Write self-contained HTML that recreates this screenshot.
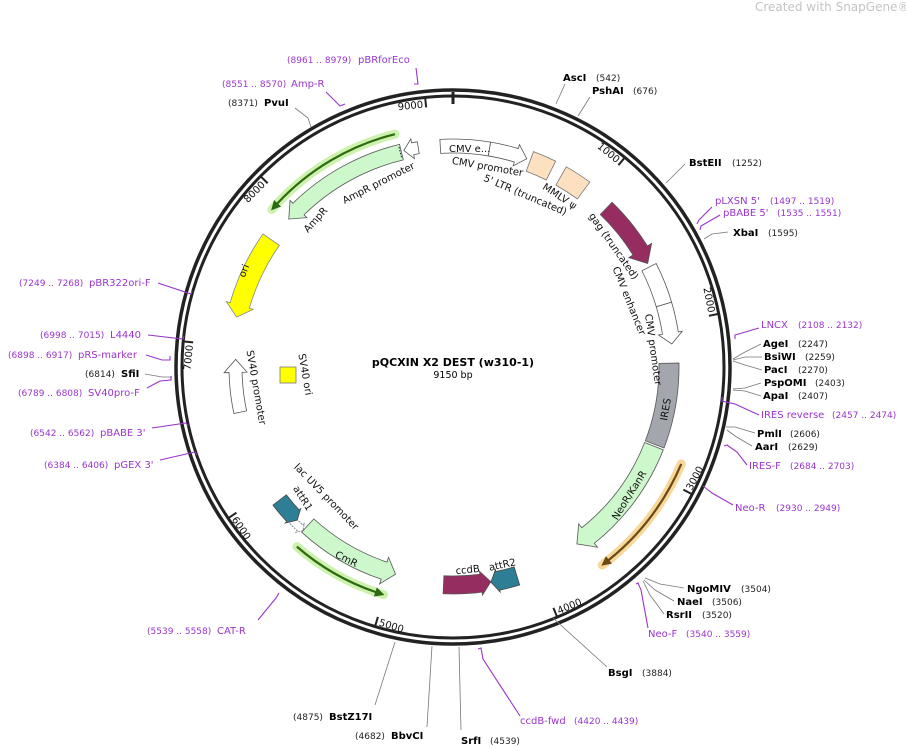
<!DOCTYPE html>
<html><head><meta charset="utf-8"><style>
html,body{margin:0;padding:0;background:#fff;width:906px;height:747px;overflow:hidden}
svg{display:block;font-family:"DejaVu Sans","Liberation Sans",sans-serif}
.e{font-weight:bold;font-size:10px;fill:#000}
.n{font-size:9px;fill:#222}
.p{font-size:10px;fill:#9a35cc}
.pn{font-size:9px;fill:#9a35cc}
.f{font-size:10px;fill:#111}
.lk{stroke:#777;stroke-width:0.8;fill:none}
.lp{stroke:#9a35cc;stroke-width:1.1;fill:none}
</style></head><body>
<svg id="s" width="906" height="747" viewBox="0 0 906 747" xmlns="http://www.w3.org/2000/svg">
<text x="755" y="11" font-size="12" fill="#c4c4c4">Created with SnapGene®</text>
<g id="feat"></g>
<circle cx="453" cy="367" r="277" fill="none" stroke="#222" stroke-width="3.5"/>
<circle cx="453" cy="367" r="271" fill="none" stroke="#222" stroke-width="3"/>
<line x1="453" y1="92" x2="453" y2="104" stroke="#222" stroke-width="3"/>
<g id="ticks"></g>
<g font-size="10" fill="#111" id="tl">
<text id="t1">1000</text><text id="t2">2000</text><text id="t3">3000</text><text id="t4">4000</text><text id="t5">5000</text><text id="t6">6000</text><text id="t7">7000</text><text id="t8">8000</text><text id="t9">9000</text>
</g>
<text x="453" y="366" text-anchor="middle" font-weight="bold" font-size="11">pQCXIN X2 DEST (w310-1)</text>
<text x="453" y="378" text-anchor="middle" font-size="9.5">9150 bp</text>

<!-- feature labels -->
<text class="f" transform="translate(380,186) rotate(-27)" text-anchor="middle">AmpR promoter</text>
<text class="f" transform="translate(318,222) rotate(-48)" text-anchor="middle">AmpR</text>
<text class="f" transform="translate(247,272) rotate(-68)" text-anchor="middle">ori</text>
<text class="f" x="449" y="152">CMV e...</text>
<text class="f" transform="translate(487,170) rotate(10)" text-anchor="middle">CMV promoter</text>
<text class="f" transform="translate(524,198) rotate(23)" text-anchor="middle">5' LTR (truncated)</text>
<text class="f" transform="translate(558,199) rotate(33)" text-anchor="middle">MMLV ψ</text>
<text class="f" transform="translate(611,248) rotate(55)" text-anchor="middle">gag (truncated)</text>
<text class="f" transform="translate(626,302) rotate(68)" text-anchor="middle">CMV enhancer</text>
<text class="f" transform="translate(650,350) rotate(82)" text-anchor="middle">CMV promoter</text>
<text class="f" transform="translate(669,410) rotate(-80)" text-anchor="middle">IRES</text>
<text class="f" transform="translate(632,497) rotate(-58)" text-anchor="middle">NeoR/KanR</text>
<text class="f" transform="translate(324,499) rotate(46)" text-anchor="middle">lac UV5 promoter</text>
<text class="f" transform="translate(300,500) rotate(58)" text-anchor="middle">attR1</text>
<text class="f" transform="translate(345,562) rotate(26)" text-anchor="middle">CmR</text>
<text class="f" transform="translate(468,573) rotate(-6)" text-anchor="middle">ccdB</text>
<text class="f" transform="translate(503,568) rotate(-12)" text-anchor="middle">attR2</text>
<text class="f" transform="translate(253,388) rotate(80)" text-anchor="middle">SV40 promoter</text>
<text class="f" transform="translate(302,375) rotate(80)" text-anchor="middle">SV40 ori</text>
<rect x="280" y="367" width="16" height="16" fill="#ffff00" stroke="#777" stroke-width="0.8"/>

<!-- leaders -->
<g class="lk">
<polyline points="295,108 308,118 311,127"/>
<polyline points="565,84 556,104"/>
<polyline points="590,97 578,116"/>
<polyline points="685,164 666,183"/>
<polyline points="728,232 712,234 704,239"/>
<polyline points="761,344 745,352 733,359"/>
<polyline points="762,357 745,357 733,360"/>
<polyline points="762,370 745,365 733,361"/>
<polyline points="761,383 745,388 733,389"/>
<polyline points="761,396 745,391 733,390"/>
<polyline points="755,433 735,427 726,427"/>
<polyline points="752,446 735,436 727,430"/>
<polyline points="684,588 660,584 645,578"/>
<polyline points="674,601 655,590 644,580"/>
<polyline points="664,614 650,595 643,581"/>
<polyline points="607,667 553,618"/>
<polyline points="461,730 459,647"/>
<polyline points="427,727 432,646"/>
<polyline points="375,705 395,642"/>
<polyline points="145,374 162,377 172,377"/>
</g>
<g class="lp">
<polyline points="416,68 418,84 414,84"/>
<polyline points="326,92 340,106 345,104"/>
<polyline points="712,207 699,220 697,224"/>
<polyline points="720,215 701,226 700,230"/>
<polyline points="759,328 742,333 735,335 735,339"/>
<polyline points="759,415 735,404 722,401 722,397"/>
<polyline points="747,465 737,452 727,445 724,446"/>
<polyline points="733,505 712,493 703,486"/>
<polyline points="648,628 641,590 638,583 636,584"/>
<polyline points="520,716 483,659 481,648 478,649"/>
<polyline points="258,620 276,598 279,593"/>
<polyline points="158,283 191,294 192,291"/>
<polyline points="148,335 183,339 184,336"/>
<polyline points="146,355 162,360 170,360 170,356"/>
<polyline points="147,388 160,381 171,380 171,376"/>
<polyline points="152,428 186,423 188,426"/>
<polyline points="160,460 195,452 197,455"/>
</g>

<!-- enzyme / primer labels -->
<text class="pn" x="287" y="63">(8961 .. 8979)</text><text class="p" x="358" y="63">pBRforEco</text>
<text class="pn" x="222" y="87">(8551 .. 8570)</text><text class="p" x="291" y="87">Amp-R</text>
<text class="n" x="228" y="106">(8371)</text><text class="e" x="264" y="106">PvuI</text>
<text class="e" x="563" y="81">AscI</text><text class="n" x="596" y="81">(542)</text>
<text class="e" x="592" y="94">PshAI</text><text class="n" x="633" y="94">(676)</text>
<text class="e" x="689" y="166">BstEII</text><text class="n" x="732" y="166">(1252)</text>
<text class="p" x="715" y="204">pLXSN 5'</text><text class="pn" x="770" y="204">(1497 .. 1519)</text>
<text class="p" x="723" y="216">pBABE 5'</text><text class="pn" x="777" y="216">(1535 .. 1551)</text>
<text class="e" x="733" y="236">XbaI</text><text class="n" x="768" y="236">(1595)</text>
<text class="p" x="761" y="328">LNCX</text><text class="pn" x="798" y="328">(2108 .. 2132)</text>
<text class="e" x="763" y="347">AgeI</text><text class="n" x="798" y="347">(2247)</text>
<text class="e" x="764" y="360">BsiWI</text><text class="n" x="805" y="360">(2259)</text>
<text class="e" x="764" y="373">PacI</text><text class="n" x="798" y="373">(2270)</text>
<text class="e" x="764" y="386">PspOMI</text><text class="n" x="815" y="386">(2403)</text>
<text class="e" x="763" y="399">ApaI</text><text class="n" x="798" y="399">(2407)</text>
<text class="p" x="761" y="418">IRES reverse</text><text class="pn" x="832" y="418">(2457 .. 2474)</text>
<text class="e" x="757" y="437">PmlI</text><text class="n" x="790" y="437">(2606)</text>
<text class="e" x="755" y="450">AarI</text><text class="n" x="788" y="450">(2629)</text>
<text class="p" x="749" y="469">IRES-F</text><text class="pn" x="790" y="469">(2684 .. 2703)</text>
<text class="p" x="735" y="511">Neo-R</text><text class="pn" x="776" y="511">(2930 .. 2949)</text>
<text class="e" x="687" y="592">NgoMIV</text><text class="n" x="741" y="592">(3504)</text>
<text class="e" x="677" y="605">NaeI</text><text class="n" x="712" y="605">(3506)</text>
<text class="e" x="666" y="618">RsrII</text><text class="n" x="702" y="618">(3520)</text>
<text class="p" x="648" y="637">Neo-F</text><text class="pn" x="686" y="637">(3540 .. 3559)</text>
<text class="e" x="608" y="676">BsgI</text><text class="n" x="642" y="676">(3884)</text>
<text class="p" x="520" y="724">ccdB-fwd</text><text class="pn" x="574" y="724">(4420 .. 4439)</text>
<text class="e" x="461" y="744">SrfI</text><text class="n" x="490" y="744">(4539)</text>
<text class="n" x="355" y="739">(4682)</text><text class="e" x="391" y="739">BbvCI</text>
<text class="n" x="293" y="720">(4875)</text><text class="e" x="329" y="720">BstZ17I</text>
<text class="pn" x="147" y="634">(5539 .. 5558)</text><text class="p" x="217" y="634">CAT-R</text>
<text class="pn" x="19" y="286">(7249 .. 7268)</text><text class="p" x="89" y="286">pBR322ori-F</text>
<text class="pn" x="40" y="338">(6998 .. 7015)</text><text class="p" x="110" y="338">L4440</text>
<text class="pn" x="8" y="358">(6898 .. 6917)</text><text class="p" x="78" y="358">pRS-marker</text>
<text class="n" x="85" y="377">(6814)</text><text class="e" x="121" y="377">SfiI</text>
<text class="pn" x="18" y="396">(6789 .. 6808)</text><text class="p" x="88" y="396">SV40pro-F</text>
<text class="pn" x="30" y="436">(6542 .. 6562)</text><text class="p" x="100" y="436">pBABE 3'</text>
<text class="pn" x="44" y="468">(6384 .. 6406)</text><text class="p" x="114" y="468">pGEX 3'</text>
</svg>
<script>
(function(){
var cx=453,cy=367,NS="http://www.w3.org/2000/svg";
function P(r,a){var t=a*Math.PI/180;return (cx+r*Math.sin(t)).toFixed(2)+","+(cy-r*Math.cos(t)).toFixed(2);}
function arc(r,a1,a2){var l=Math.abs(a2-a1)>180?1:0,s=a2>a1?1:0;return "A"+r+","+r+" 0 "+l+" "+s+" "+P(r,a2);}
function band(r1,r2,a1,a2){return "M"+P(r2,a1)+" "+arc(r2,a1,a2)+" L"+P(r1,a2)+" "+arc(r1,a2,a1)+" Z";}
function arrow(r1,r2,a1,a2,hp,w){w=(w==null)?4:w;var rm=(r1+r2)/2,hl=hp/rm*180/Math.PI,s=a2>a1?1:-1,ab=a2-s*hl;
 return "M"+P(r2,a1)+" "+arc(r2,a1,ab)+" L"+P(r2+w,ab)+" L"+P(rm,a2)+" L"+P(r1-w,ab)+" L"+P(r1,ab)+" "+arc(r1,ab,a1)+" Z";}
var g=document.getElementById("feat");
function add(d,fill,stroke,sw,extra){var p=document.createElementNS(NS,"path");p.setAttribute("d",d);p.setAttribute("fill",fill);p.setAttribute("stroke",stroke||"#555");p.setAttribute("stroke-width",sw||0.8);if(extra)for(var k in extra)p.setAttribute(k,extra[k]);g.appendChild(p);}
function glow(r,a1,a2,gc,lc){
 var s=a2>a1?1:-1,hl=8/r*180/Math.PI,ab=a2-s*hl;
 add("M"+P(r,a1)+" "+arc(r,a1,a2),"none",gc,9,{"stroke-linecap":"round","opacity":"0.85"});
 add("M"+P(r,a1)+" "+arc(r,a1,ab),"none",lc,2.2);
 add("M"+P(r+4,ab)+" L"+P(r,a2)+" L"+P(r-4,ab)+" Z",lc,lc,1);
}
var LG="#ccf8cc",MAG="#962d60",TEAL="#2e7f96",BEI="#fde0c0";
glow(240,-14,-49,"#c4f0a0","#2d6b12");
glow(238,221,197,"#c4f0a0","#2d6b12");
glow(248,113,143,"#f7d08a","#6b4a14");
add(arrow(213,229,-13.5,-48,14),LG);
add(arrow(216,228,-9,-12.8,9,4),"#fff");
add("M"+P(216,-13.8)+" L"+P(228,-13.8),"none","#222",1,{"stroke-dasharray":"1.5,1.5"});
add(arrow(212,232,-55,-77,12),"#ffff00","#888");
add(arrow(211,224,-102,-88,13,5),"#fff");
add(band(214,228,-3.3,9.5),"#fff");
add(arrow(214,228,9.5,19.5,11,4),"#fff");
add(band(209,230,20.5,26.5),BEI,"#777");
add(band(209,230,29.5,36.5),BEI,"#777");
add(arrow(212,229,44,62,15,5),MAG);
add(band(212,228,63,73.5),"#fff");
add(arrow(212,228,73.5,84,11,4),"#fff");
add(band(206,226,89,111),"#a3a7ad");
add(arrow(206,226,111.5,145,14,5),LG);
add(arrow(218,226,227,222.5,4,2),"#fff","#777",0.8,{"stroke-dasharray":"2,1"});
add(arrow(210,227,232.5,225.5,6,2),TEAL,"#444");
add(arrow(206,224,222.5,195.5,12,5),LG);
add(arrow(209,227,182.5,170,10,3),MAG);
add(arrow(209,228,163,170,7,2),TEAL,"#444");
var tg=document.getElementById("ticks");
for(var i=1;i<=9;i++){var a=i*1000/9150*360;
 var l=document.createElementNS(NS,"path");l.setAttribute("d","M"+P(270,a)+" L"+P(261,a));l.setAttribute("stroke","#222");l.setAttribute("stroke-width","2");tg.appendChild(l);
 var t=document.getElementById("t"+i);var top=Math.cos(a*Math.PI/180)>=0;
 if(top){t.setAttribute("text-anchor","end");var pt=P(261,a-0.6).split(",");t.setAttribute("transform","translate("+pt[0]+","+pt[1]+") rotate("+a+")");}
 else{t.setAttribute("text-anchor","start");var pt=P(262,a-0.6).split(",");t.setAttribute("transform","translate("+pt[0]+","+pt[1]+") rotate("+(a-180)+") translate(0,7)");}
}
})();
</script>
</body></html>
